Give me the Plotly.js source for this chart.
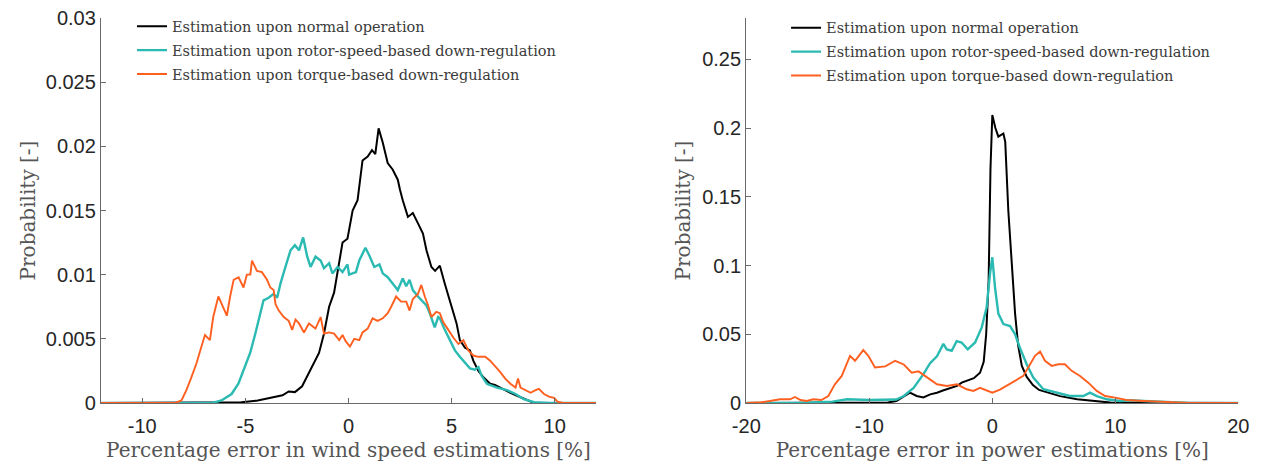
<!DOCTYPE html>
<html>
<head>
<meta charset="utf-8">
<script src="https://cdn.plot.ly/plotly-3.0.1.min.js"></script>
<style>
  html, body { margin: 0; padding: 0; background: #fff; }
  #chart { width: 1274px; height: 466px; }
</style>
</head>
<body>
<div id="chart"></div>
<script>
// Legend names
const seriesNames = [
  'Estimation upon normal operation',
  'Estimation upon rotor-speed-based down-regulation',
  'Estimation upon torque-based down-regulation'
];

// Left panel: percentage error in wind speed estimations [%] vs probability
const windNormal = [[-12,0],[-6.5,0],[-5.2,0.00005],[-4.4,0.0002],[-3.7,0.00045],[-3.2,0.0006],[-2.9,0.0009],[-2.6,0.00085],[-2.25,0.0013],[-2.0,0.0021],[-1.7,0.0030],[-1.43,0.0039],[-1.19,0.0054],[-0.94,0.0075],[-0.7,0.0086],[-0.45,0.0109],[-0.29,0.0125],[-0.05,0.0128],[0.2,0.0150],[0.44,0.0158],[0.68,0.0189],[0.93,0.0192],[1.14,0.0197],[1.3,0.0194],[1.46,0.0214],[1.66,0.0203],[1.9,0.0187],[2.14,0.0182],[2.39,0.0174],[2.5,0.0166],[2.63,0.0158],[2.88,0.0145],[3.12,0.0148],[3.37,0.0140],[3.61,0.0132],[3.78,0.0119],[4.02,0.0106],[4.2,0.0103],[4.43,0.0107],[4.67,0.0093],[4.92,0.0080],[5.08,0.0070],[5.24,0.0062],[5.4,0.0049],[5.65,0.0043],[5.89,0.0041],[6.05,0.0033],[6.3,0.0025],[6.54,0.0020],[6.87,0.0015],[7.1,0.0014],[7.36,0.0012],[7.6,0.0010],[7.85,0.0008],[8.34,0.00045],[8.8,0.0001],[9.0,0],[12,0]];

const windRotor = [[-12,0],[-6.6,0],[-6.16,0.0002],[-5.67,0.0007],[-5.34,0.0015],[-5.01,0.0028],[-4.77,0.0039],[-4.52,0.0054],[-4.28,0.0070],[-4.12,0.0080],[-3.87,0.0082],[-3.63,0.0085],[-3.46,0.0082],[-3.3,0.0093],[-3.06,0.0106],[-2.81,0.0119],[-2.6,0.0123],[-2.4,0.0119],[-2.2,0.0129],[-2.0,0.0114],[-1.84,0.0106],[-1.6,0.0114],[-1.35,0.0111],[-1.19,0.0105],[-0.94,0.0109],[-0.78,0.0101],[-0.53,0.0106],[-0.29,0.0102],[-0.05,0.0108],[0.03,0.0100],[0.36,0.0102],[0.52,0.0111],[0.82,0.0121],[1.01,0.0115],[1.25,0.0106],[1.5,0.0108],[1.66,0.0101],[1.9,0.0098],[2.15,0.0093],[2.39,0.0088],[2.63,0.0097],[2.8,0.0091],[2.96,0.0096],[3.12,0.0088],[3.37,0.0083],[3.61,0.0079],[3.78,0.0076],[3.94,0.0070],[4.18,0.0059],[4.35,0.0067],[4.43,0.0066],[4.67,0.0057],[4.92,0.0049],[5.16,0.0041],[5.4,0.0036],[5.65,0.0031],[5.89,0.0027],[6.13,0.0026],[6.3,0.0028],[6.46,0.0021],[6.71,0.0015],[7.2,0.0012],[7.69,0.0010],[8.1,0.0007],[8.5,0.0003],[9.0,0.00006],[9.8,0],[12,0]];

const windTorque = [[-12,0],[-8.4,0],[-8.1,0.0002],[-7.86,0.0010],[-7.62,0.0020],[-7.37,0.0031],[-7.13,0.0044],[-6.96,0.0053],[-6.72,0.0049],[-6.56,0.0067],[-6.31,0.0083],[-6.07,0.0075],[-5.9,0.0068],[-5.74,0.0083],[-5.57,0.0096],[-5.33,0.0098],[-5.09,0.0090],[-4.93,0.0100],[-4.76,0.0100],[-4.68,0.0111],[-4.44,0.0103],[-4.2,0.0102],[-3.95,0.0096],[-3.79,0.0090],[-3.63,0.0088],[-3.54,0.0077],[-3.38,0.0072],[-3.14,0.0067],[-2.9,0.0064],[-2.73,0.0057],[-2.57,0.0065],[-2.4,0.0062],[-2.16,0.0055],[-1.92,0.0062],[-1.6,0.0058],[-1.35,0.0067],[-1.19,0.0054],[-0.94,0.0055],[-0.7,0.0054],[-0.45,0.0049],[-0.29,0.0053],[-0.13,0.0048],[0.07,0.0044],[0.28,0.0050],[0.52,0.0049],[0.68,0.0055],[0.93,0.0058],[1.17,0.0066],[1.41,0.0064],[1.66,0.0066],[1.9,0.0070],[2.07,0.0075],[2.31,0.0083],[2.55,0.0079],[2.8,0.0079],[2.96,0.0072],[3.12,0.0081],[3.37,0.0085],[3.53,0.0092],[3.7,0.0083],[3.86,0.0076],[4.02,0.0067],[4.26,0.0071],[4.43,0.0070],[4.59,0.0063],[4.84,0.0057],[5.08,0.0051],[5.33,0.0046],[5.57,0.0049],[5.81,0.0041],[6.05,0.0037],[6.3,0.0036],[6.63,0.0036],[6.87,0.0033],[7.11,0.0029],[7.36,0.0024],[7.6,0.0019],[7.85,0.0015],[8.1,0.0012],[8.22,0.0019],[8.34,0.0012],[8.58,0.0010],[8.83,0.0008],[9.07,0.0010],[9.23,0.0011],[9.48,0.0007],[9.72,0.0005],[9.97,0.0004],[10.13,0.0001],[10.4,0],[12,0]];

// Right panel: percentage error in power estimations [%] vs probability
const powerNormal = [[-20,0],[-10,0],[-8.5,0.0003],[-7.8,0.0015],[-7.2,0.005],[-6.7,0.0075],[-6.15,0.0051],[-5.6,0.004],[-5.05,0.0063],[-4.5,0.0075],[-3.96,0.0093],[-3.41,0.0107],[-2.87,0.0124],[-2.49,0.0148],[-1.95,0.0165],[-1.5,0.018],[-1.0,0.022],[-0.7,0.03],[-0.5,0.05],[-0.3,0.089],[-0.15,0.17],[0,0.2095],[0.25,0.200],[0.49,0.1937],[0.9,0.196],[1.05,0.190],[1.3,0.140],[1.58,0.099],[1.85,0.065],[2.1,0.042],[2.4,0.027],[2.8,0.019],[3.3,0.013],[3.8,0.0095],[4.5,0.0075],[5.5,0.005],[6.9,0.0027],[8.2,0.0015],[9.6,0.0003],[11,0.0001],[14,0],[20,0]];

const powerRotor = [[-20,0],[-16,0],[-13,0.001],[-11.8,0.0027],[-10,0.0022],[-7.8,0.0025],[-7.2,0.0051],[-6.4,0.011],[-5.6,0.021],[-5.06,0.029],[-4.5,0.034],[-3.98,0.043],[-3.7,0.039],[-3.3,0.038],[-2.9,0.045],[-2.5,0.044],[-2.0,0.039],[-1.4,0.044],[-0.86,0.055],[-0.46,0.0696],[-0.19,0.094],[0,0.106],[0.22,0.084],[0.49,0.065],[0.9,0.0574],[1.44,0.056],[1.85,0.050],[2.25,0.040],[2.8,0.028],[3.33,0.0185],[4.15,0.010],[5.24,0.0075],[6.3,0.0051],[7.4,0.0051],[7.94,0.0075],[8.5,0.005],[9.3,0.0027],[10.4,0.0015],[11.2,0.002],[12.3,0.0015],[13.4,0.001],[15,0.0003],[16,0],[20,0]];

const powerTorque = [[-20,0],[-18.8,0.0005],[-18.07,0.0015],[-17.26,0.0027],[-16.45,0.0027],[-16.04,0.0044],[-15.6,0.0022],[-15.1,0.0015],[-14.55,0.0027],[-13.9,0.0022],[-13.33,0.0051],[-12.8,0.0136],[-12.24,0.0197],[-11.57,0.0343],[-11.16,0.0307],[-10.49,0.0385],[-10.08,0.0343],[-9.54,0.0258],[-8.7,0.0266],[-7.9,0.0307],[-7.2,0.028],[-6.55,0.0221],[-6.0,0.023],[-5.33,0.0185],[-4.5,0.0136],[-3.7,0.0124],[-2.87,0.0136],[-2.08,0.0100],[-1.54,0.0088],[-1.0,0.011],[-0.46,0.0088],[0,0.0075],[0.62,0.0097],[1.44,0.0140],[2.25,0.0185],[2.52,0.0197],[3.06,0.028],[3.47,0.0343],[3.88,0.0374],[4.28,0.0307],[4.83,0.027],[5.37,0.0282],[5.9,0.0282],[6.45,0.0234],[7.13,0.0197],[7.8,0.0148],[8.49,0.0088],[9.17,0.0051],[10.1,0.0037],[10.9,0.0022],[12.3,0.0015],[13.6,0.001],[15,0.0003],[16,0],[20,0]];

// Axis ticks and their labels (hyphen-minus as in the original)
const windTicks = [-10, -5, 0, 5, 10];
const windTickText = ['-10', '-5', '0', '5', '10'];
const windProbTicks = [0, 0.005, 0.01, 0.015, 0.02, 0.025, 0.03];
const windProbText = ['0', '0.005', '0.01', '0.015', '0.02', '0.025', '0.03'];
const powerTicks = [-20, -10, 0, 10, 20];
const powerTickText = ['-20', '-10', '0', '10', '20'];
const powerProbTicks = [0, 0.05, 0.1, 0.15, 0.2, 0.25];
const powerProbText = ['0', '0.05', '0.1', '0.15', '0.2', '0.25'];

const colors = ['#000000', '#2bbab2', '#ff5f1f'];
const widths = [2.0, 2.4, 1.9];

function mk(data, i, xa, ya, leg) {
  return {
    type: 'scatter', mode: 'lines',
    x: data.map(p => p[0]), y: data.map(p => p[1]),
    xaxis: xa, yaxis: ya, legend: leg, legendgroup: leg + i,
    name: seriesNames[i],
    line: { color: colors[i], width: widths[i] },
    hoverinfo: 'skip'
  };
}

const traces = [
  mk(windNormal, 0, 'x', 'y', 'legend'),
  mk(windRotor, 1, 'x', 'y', 'legend'),
  mk(windTorque, 2, 'x', 'y', 'legend'),
  mk(powerNormal, 0, 'x2', 'y2', 'legend2'),
  mk(powerRotor, 1, 'x2', 'y2', 'legend2'),
  mk(powerTorque, 2, 'x2', 'y2', 'legend2')
];

const tickFont = { family: 'Liberation Sans, Arial, sans-serif', size: 20, color: '#262626' };
const titleFont = { family: 'DejaVu Serif, serif', size: 20, color: '#555555' };
const legFont = { family: 'DejaVu Serif, serif', size: 14.5, color: '#3a3a3a' };

function axis(extra) {
  return Object.assign({
    showline: true, linecolor: '#6a6a6a', linewidth: 1.2,
    ticks: 'inside', ticklen: 5, tickcolor: '#6a6a6a', tickwidth: 1,
    showgrid: false, zeroline: false, mirror: false,
    tickfont: tickFont, fixedrange: true
  }, extra);
}

const layout = {
  width: 1274, height: 466,
  margin: { l: 0, r: 0, t: 18, b: 63 },
  paper_bgcolor: '#ffffff', plot_bgcolor: '#ffffff',
  showlegend: true,
  xaxis: axis({ domain: [0.0793, 0.4678], range: [-12, 12], anchor: 'y',
    tickvals: windTicks, ticktext: windTickText, ticklabelstandoff: 5,
    title: { text: 'Percentage error in wind speed estimations [%]', font: titleFont, standoff: 6 } }),
  yaxis: axis({ domain: [0, 1], range: [0, 0.03], anchor: 'x',
    tickvals: windProbTicks, ticktext: windProbText,
    title: { text: 'Probability [-]', font: titleFont, standoff: 4 } }),
  xaxis2: axis({ domain: [0.5858, 0.972], range: [-20, 20], anchor: 'y2',
    tickvals: powerTicks, ticktext: powerTickText, ticklabelstandoff: 5,
    title: { text: 'Percentage error in power estimations [%]', font: titleFont, standoff: 6 } }),
  yaxis2: axis({ domain: [0, 1], range: [0, 0.28], anchor: 'x2',
    tickvals: powerProbTicks, ticktext: powerProbText,
    title: { text: 'Probability [-]', font: titleFont, standoff: 6 } }),
  legend: { x: 0.1036, y: 1.02, xanchor: 'left', yanchor: 'top', font: legFont,
    bgcolor: 'rgba(0,0,0,0)', borderwidth: 0, tracegroupgap: 2, traceorder: 'grouped' },
  legend2: { x: 0.617, y: 1.016, xanchor: 'left', yanchor: 'top', font: legFont,
    bgcolor: 'rgba(0,0,0,0)', borderwidth: 0, tracegroupgap: 2, traceorder: 'grouped' }
};

Plotly.newPlot('chart', traces, layout, { displayModeBar: false, staticPlot: true });
</script>
</body>
</html>
